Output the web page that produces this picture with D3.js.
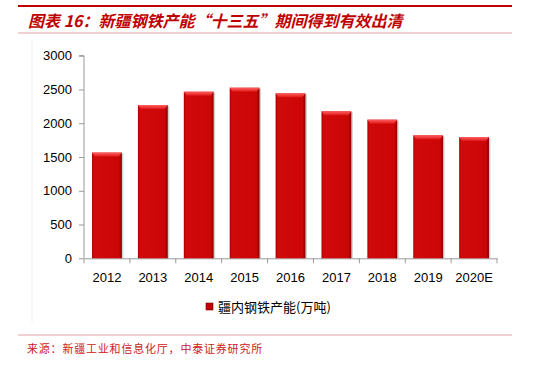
<!DOCTYPE html>
<html>
<head>
<meta charset="utf-8">
<script src="https://cdn.jsdelivr.net/npm/d3@7"></script>
<style>
  body { margin: 0; background: #fff; }
  text { font-family: "Liberation Sans", Arial, "Noto Sans CJK SC", sans-serif; }
</style>
</head>
<body>
<svg id="chart" width="537" height="366"></svg>
<script>
// data
const years = ["2012", "2013", "2014", "2015", "2016", "2017", "2018", "2019", "2020E"];
const capacity = [1565, 2270, 2467, 2526, 2443, 2177, 2053, 1821, 1796];
const yTicks = [0, 500, 1000, 1500, 2000, 2500, 3000];
const seriesName = "疆内钢铁产能(万吨)";
const titleText = "图表 16：新疆钢铁产能“十三五”期间得到有效出清";
const sourceText = "来源：新疆工业和信息化厅，中泰证券研究所";

const svg = d3.select("#chart");

// gradients for the bevelled bars
const defs = svg.append("defs");
const grad = defs.append("linearGradient").attr("id", "barGrad")
    .attr("x1", 0).attr("x2", 1).attr("y1", 0).attr("y2", 0);
grad.append("stop").attr("offset", "0%").attr("stop-color", "#b30000");
grad.append("stop").attr("offset", "8%").attr("stop-color", "#d00a0a");
grad.append("stop").attr("offset", "90%").attr("stop-color", "#cc0606");
grad.append("stop").attr("offset", "100%").attr("stop-color", "#8a0000");
const topGrad = defs.append("linearGradient").attr("id", "topGrad")
    .attr("x1", 0).attr("x2", 0).attr("y1", 0).attr("y2", 1);
topGrad.append("stop").attr("offset", "0%").attr("stop-color", "#ff6060");
topGrad.append("stop").attr("offset", "100%").attr("stop-color", "#e01818");

// header lines and title
svg.append("line").attr("x1", 18).attr("x2", 512).attr("y1", 6).attr("y2", 6)
    .attr("stroke", "#c00000").attr("stroke-width", 2);
svg.append("text").attr("x", 28).attr("y", 27)
    .attr("fill", "#c00000")
    .style("font-size", "16px").style("font-weight", "bold").style("font-style", "italic")
    .style("font-family", "'Noto Sans CJK SC', sans-serif")
    .text(titleText);
svg.append("line").attr("x1", 18).attr("x2", 512).attr("y1", 33).attr("y2", 33)
    .attr("stroke", "#e0a0a0").attr("stroke-width", 1);

// faint plot frame line
svg.append("line").attr("x1", 32).attr("x2", 32).attr("y1", 40).attr("y2", 323)
    .attr("stroke", "#f2f2f2");

const margin = { left: 84, right: 497, top: 55.7, bottom: 258.3 };

const x = d3.scaleBand().domain(years).range([margin.left, margin.right])
    .paddingInner(0.35).paddingOuter(0.175);
const y = d3.scaleLinear().domain([0, 3000]).range([margin.bottom, margin.top]);

// y axis
const yAxis = svg.append("g").attr("transform", `translate(${margin.left},0)`)
    .call(d3.axisLeft(y).tickValues(yTicks).tickFormat(d3.format("d")).tickSize(5).tickPadding(7));
yAxis.select(".domain").attr("stroke", "#999").attr("d", `M-5,${margin.top}H0V${margin.bottom}`);
yAxis.selectAll(".tick line").attr("stroke", "#999");
yAxis.selectAll("text").style("font-size", "13px").attr("fill", "#000")
    .style("font-family", "'Liberation Sans', Arial, sans-serif");

// x axis
const xAxis = svg.append("g").attr("transform", `translate(0,${margin.bottom})`)
    .call(d3.axisBottom(x).tickSize(0).tickPadding(14));
xAxis.select(".domain").attr("stroke", "#999");
xAxis.selectAll("text").style("font-size", "13px").attr("fill", "#000")
    .style("font-family", "'Liberation Sans', Arial, sans-serif");
// category separators
const step = x.step();
svg.append("g").selectAll("line")
    .data(d3.range(years.length + 1))
    .join("line")
    .attr("x1", i => margin.left + i * step).attr("x2", i => margin.left + i * step)
    .attr("y1", margin.bottom).attr("y2", margin.bottom + 5)
    .attr("stroke", "#999");

// bars
const bars = svg.append("g").selectAll("g")
    .data(years.map((yr, i) => ({ yr, v: capacity[i] })))
    .join("g");
// shadow
bars.append("rect")
    .attr("x", d => x(d.yr) + 1.5).attr("y", d => y(d.v) + 1)
    .attr("width", x.bandwidth()).attr("height", d => margin.bottom - y(d.v) - 1)
    .attr("fill", "#b0b0b0").attr("opacity", 0.6);
bars.append("rect")
    .attr("x", d => x(d.yr)).attr("y", d => y(d.v))
    .attr("width", x.bandwidth()).attr("height", d => margin.bottom - y(d.v))
    .attr("fill", "url(#barGrad)");
bars.append("path")
    .attr("d", d => {
        const x0 = x(d.yr), x1 = x0 + x.bandwidth(), y0 = y(d.v);
        return `M${x0},${y0}H${x1}L${x1 - 3},${y0 + 4}H${x0 + 3}Z`;
    })
    .attr("fill", "url(#topGrad)");

// legend
const leg = svg.append("g").attr("transform", "translate(206,303)");
leg.append("rect").attr("width", 7).attr("height", 7)
    .attr("fill", "#c00000").attr("stroke", "#700").attr("stroke-width", 0.6);
leg.append("text").attr("x", 12).attr("y", 8.5)
    .style("font-size", "13px").attr("fill", "#000")
    .style("font-family", "'Noto Sans CJK SC', sans-serif")
    .text(seriesName);

// footer
svg.append("line").attr("x1", 18).attr("x2", 512).attr("y1", 335).attr("y2", 335)
    .attr("stroke", "#e0a0a0").attr("stroke-width", 1);
svg.append("text").attr("x", 27).attr("y", 353)
    .attr("fill", "#d02020")
    .style("font-size", "11px").style("letter-spacing", "0.8px")
    .style("font-family", "'Noto Sans CJK SC', sans-serif")
    .text(sourceText);
</script>
</body>
</html>
